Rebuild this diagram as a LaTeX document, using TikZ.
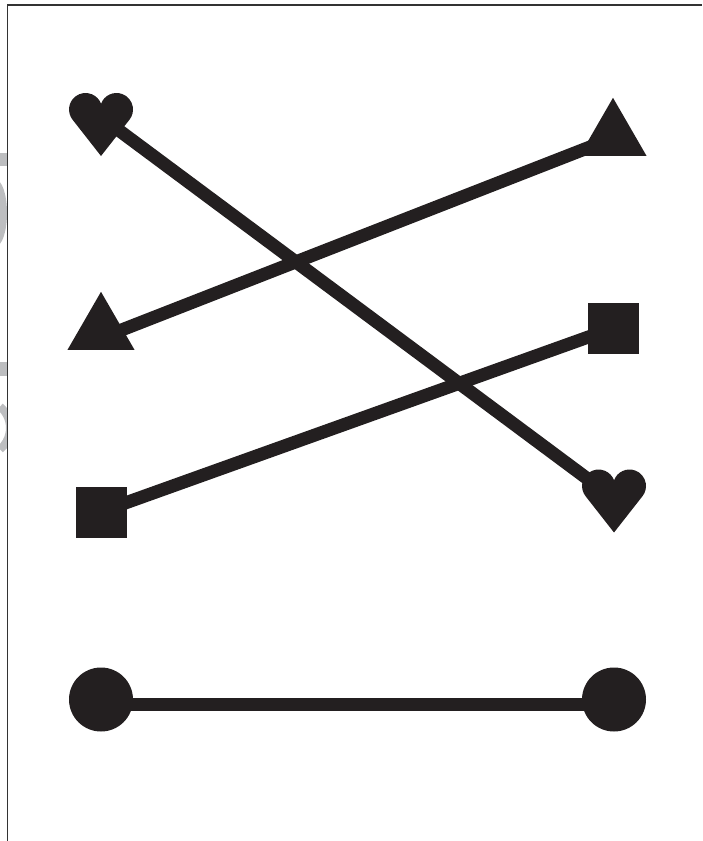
\documentclass[tikz,border=0pt]{standalone}
\usetikzlibrary{shapes.geometric}
\definecolor{ink}{HTML}{231F20}
\definecolor{wmark}{HTML}{BDBEC0}
\definecolor{framec}{HTML}{333333}
\begin{document}
\begin{tikzpicture}[x=1pt,y=1pt,
  link/.style={line width=13pt, draw=ink},
  dot/.style={circle, fill=ink, minimum size=64pt, inner sep=0pt, outer sep=0pt},
  sqbox/.style={rectangle, fill=ink, minimum size=51pt, inner sep=0pt, outer sep=0pt},
  tri/.style={regular polygon, regular polygon sides=3, fill=ink, minimum size=77.4pt, inner sep=0pt, outer sep=0pt},
  heart/.pic={\fill[ink] (0,-31.5) -- (-28.5,4.9) arc[start angle=217.8, end angle=20.2, radius=16.5] arc[start angle=159.8, end angle=-37.8, radius=16.5] -- cycle;}
]
\useasboundingbox (0,0) rectangle (702,-841);
% watermark fragments at the left edge
\begin{scope}
  \clip (0,0) rectangle (7.5,-841);
  \fill[wmark] (-2,-153) rectangle (8,-166);
  \fill[wmark] (-4,-213) ellipse [x radius=11, y radius=33];
  \fill[wmark] (-2,-362) rectangle (8,-376);
  \draw[wmark, line width=8pt] (-18,-428) ++(50:28) arc[start angle=50, end angle=-50, radius=28];
\end{scope}
% frame
\draw[framec, line width=1.2pt] (7.5,-841) -- (7.5,-5) -- (702,-5);
% connector ends
\coordinate (hA) at (101,-117);
\coordinate (hB) at (614,-498.5);
\coordinate (tA) at (101,-338);
\coordinate (tB) at (613,-138);
\coordinate (sA) at (101.5,-511.5);
\coordinate (sB) at (613.5,-328);
\coordinate (cA) at (101,-704);
\coordinate (cB) at (614,-704);
% connectors
\draw[link] (hA) -- (hB);
\draw[link] (tA) -- (tB);
\draw[link] (sA) -- (sB);
\draw[link] (cA) -- (cB);
% shapes
\pic at (101,-124.5) {heart};
\pic at (614,-501) {heart};
\node[tri] (t1) at (101,-330.5) {};
\node[tri] (t2) at (613,-136.5) {};
\node[sqbox] (s1) at (101.5,-512.5) {};
\node[sqbox] (s2) at (613.5,-328) {};
\node[dot] (c1) at (101,-699.5) {};
\node[dot] (c2) at (614,-699.5) {};
\end{tikzpicture}
\end{document}
